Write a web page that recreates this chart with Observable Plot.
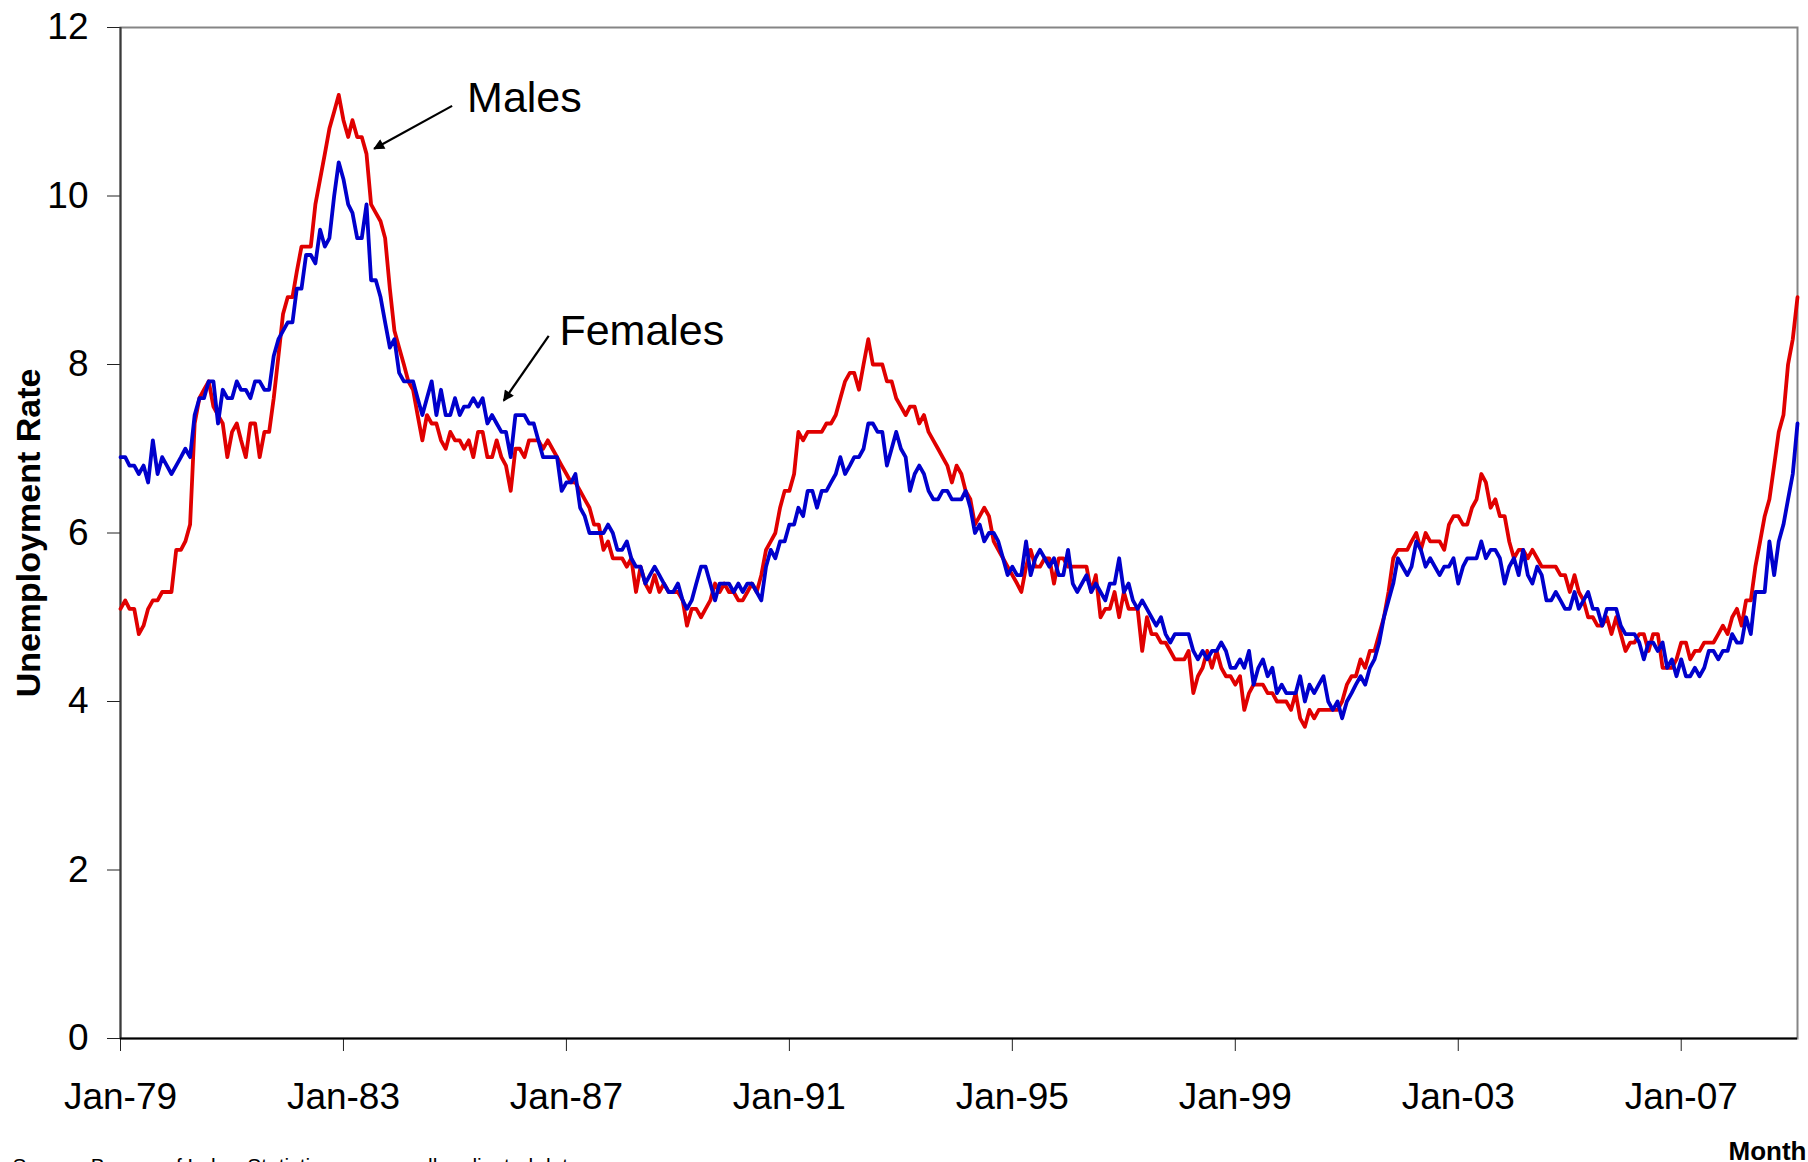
<!DOCTYPE html>
<html>
<head>
<meta charset="utf-8">
<script src="https://cdn.jsdelivr.net/npm/d3@7"></script>
<script src="https://cdn.jsdelivr.net/npm/@observablehq/plot@0.6"></script>
<style>
  html, body { margin: 0; padding: 0; background: white; }
  #wrap { width: 1808px; height: 1162px; overflow: hidden; position: relative; }
</style>
</head>
<body>
<div id="wrap"></div>
<script>
// Monthly unemployment rate, seasonally adjusted, Jan 1979 – Feb 2009
const startMonth = "1979-01-01";

const males = [
  5.1, 5.2, 5.1, 5.1, 4.8, 4.9, 5.1, 5.2, 5.2, 5.3, 5.3, 5.3,      // 1979
  5.8, 5.8, 5.9, 6.1, 7.3, 7.6, 7.7, 7.8, 7.5, 7.4, 7.3, 6.9,      // 1980
  7.2, 7.3, 7.1, 6.9, 7.3, 7.3, 6.9, 7.2, 7.2, 7.6, 8.1, 8.6,      // 1981
  8.8, 8.8, 9.1, 9.4, 9.4, 9.4, 9.9, 10.2, 10.5, 10.8, 11.0, 11.2, // 1982
  10.9, 10.7, 10.9, 10.7, 10.7, 10.5, 9.9, 9.8, 9.7, 9.5, 8.9, 8.4, // 1983
  8.2, 8.0, 7.8, 7.7, 7.4, 7.1, 7.4, 7.3, 7.3, 7.1, 7.0, 7.2,      // 1984
  7.1, 7.1, 7.0, 7.1, 6.9, 7.2, 7.2, 6.9, 6.9, 7.1, 6.9, 6.8,      // 1985
  6.5, 7.0, 7.0, 6.9, 7.1, 7.1, 7.1, 7.0, 7.1, 7.0, 6.9, 6.8,      // 1986
  6.7, 6.6, 6.6, 6.5, 6.4, 6.3, 6.1, 6.1, 5.8, 5.9, 5.7, 5.7,      // 1987
  5.7, 5.6, 5.7, 5.3, 5.6, 5.4, 5.3, 5.5, 5.3, 5.4, 5.3, 5.3,      // 1988
  5.3, 5.2, 4.9, 5.1, 5.1, 5.0, 5.1, 5.2, 5.4, 5.3, 5.4, 5.3,      // 1989
  5.3, 5.2, 5.2, 5.3, 5.4, 5.3, 5.5, 5.8, 5.9, 6.0, 6.3, 6.5,      // 1990
  6.5, 6.7, 7.2, 7.1, 7.2, 7.2, 7.2, 7.2, 7.3, 7.3, 7.4, 7.6,      // 1991
  7.8, 7.9, 7.9, 7.7, 8.0, 8.3, 8.0, 8.0, 8.0, 7.8, 7.8, 7.6,      // 1992
  7.5, 7.4, 7.5, 7.5, 7.3, 7.4, 7.2, 7.1, 7.0, 6.9, 6.8, 6.6,      // 1993
  6.8, 6.7, 6.5, 6.4, 6.1, 6.2, 6.3, 6.2, 5.9, 5.8, 5.7, 5.6,      // 1994
  5.5, 5.4, 5.3, 5.6, 5.8, 5.6, 5.6, 5.7, 5.7, 5.4, 5.7, 5.7,      // 1995
  5.6, 5.6, 5.6, 5.6, 5.6, 5.3, 5.5, 5.0, 5.1, 5.1, 5.3, 5.0,      // 1996
  5.3, 5.1, 5.1, 5.1, 4.6, 5.0, 4.8, 4.8, 4.7, 4.7, 4.6, 4.5,      // 1997
  4.5, 4.5, 4.6, 4.1, 4.3, 4.4, 4.6, 4.4, 4.6, 4.4, 4.3, 4.3,      // 1998
  4.2, 4.3, 3.9, 4.1, 4.2, 4.2, 4.2, 4.1, 4.1, 4.0, 4.0, 4.0,      // 1999
  3.9, 4.1, 3.8, 3.7, 3.9, 3.8, 3.9, 3.9, 3.9, 3.9, 3.9, 4.0,      // 2000
  4.2, 4.3, 4.3, 4.5, 4.4, 4.6, 4.6, 4.8, 5.0, 5.3, 5.7, 5.8,      // 2001
  5.8, 5.8, 5.9, 6.0, 5.8, 6.0, 5.9, 5.9, 5.9, 5.8, 6.1, 6.2,      // 2002
  6.2, 6.1, 6.1, 6.3, 6.4, 6.7, 6.6, 6.3, 6.4, 6.2, 6.2, 5.9,      // 2003
  5.7, 5.8, 5.8, 5.7, 5.8, 5.7, 5.6, 5.6, 5.6, 5.6, 5.5, 5.5,      // 2004
  5.3, 5.5, 5.3, 5.2, 5.0, 5.0, 4.9, 4.9, 5.0, 4.8, 5.0, 4.8,      // 2005
  4.6, 4.7, 4.7, 4.8, 4.8, 4.6, 4.8, 4.8, 4.4, 4.4, 4.4, 4.5,      // 2006
  4.7, 4.7, 4.5, 4.6, 4.6, 4.7, 4.7, 4.7, 4.8, 4.9, 4.8, 5.0,      // 2007
  5.1, 4.9, 5.2, 5.2, 5.6, 5.9, 6.2, 6.4, 6.8, 7.2, 7.4, 8.0,      // 2008
  8.3, 8.8                                                          // 2009
];

const females = [
  6.9, 6.9, 6.8, 6.8, 6.7, 6.8, 6.6, 7.1, 6.7, 6.9, 6.8, 6.7,      // 1979
  6.8, 6.9, 7.0, 6.9, 7.4, 7.6, 7.6, 7.8, 7.8, 7.3, 7.7, 7.6,      // 1980
  7.6, 7.8, 7.7, 7.7, 7.6, 7.8, 7.8, 7.7, 7.7, 8.1, 8.3, 8.4,      // 1981
  8.5, 8.5, 8.9, 8.9, 9.3, 9.3, 9.2, 9.6, 9.4, 9.5, 10.0, 10.4,    // 1982
  10.2, 9.9, 9.8, 9.5, 9.5, 9.9, 9.0, 9.0, 8.8, 8.5, 8.2, 8.3,     // 1983
  7.9, 7.8, 7.8, 7.8, 7.6, 7.4, 7.6, 7.8, 7.4, 7.7, 7.4, 7.4,      // 1984
  7.6, 7.4, 7.5, 7.5, 7.6, 7.5, 7.6, 7.3, 7.4, 7.3, 7.2, 7.2,      // 1985
  6.9, 7.4, 7.4, 7.4, 7.3, 7.3, 7.1, 6.9, 6.9, 6.9, 6.9, 6.5,      // 1986
  6.6, 6.6, 6.7, 6.3, 6.2, 6.0, 6.0, 6.0, 6.0, 6.1, 6.0, 5.8,      // 1987
  5.8, 5.9, 5.7, 5.6, 5.6, 5.4, 5.5, 5.6, 5.5, 5.4, 5.3, 5.3,      // 1988
  5.4, 5.2, 5.1, 5.2, 5.4, 5.6, 5.6, 5.4, 5.2, 5.4, 5.4, 5.4,      // 1989
  5.3, 5.4, 5.3, 5.4, 5.4, 5.3, 5.2, 5.6, 5.8, 5.7, 5.9, 5.9,      // 1990
  6.1, 6.1, 6.3, 6.2, 6.5, 6.5, 6.3, 6.5, 6.5, 6.6, 6.7, 6.9,      // 1991
  6.7, 6.8, 6.9, 6.9, 7.0, 7.3, 7.3, 7.2, 7.2, 6.8, 7.0, 7.2,      // 1992
  7.0, 6.9, 6.5, 6.7, 6.8, 6.7, 6.5, 6.4, 6.4, 6.5, 6.5, 6.4,      // 1993
  6.4, 6.4, 6.5, 6.3, 6.0, 6.1, 5.9, 6.0, 6.0, 5.9, 5.7, 5.5,      // 1994
  5.6, 5.5, 5.5, 5.9, 5.5, 5.7, 5.8, 5.7, 5.6, 5.7, 5.5, 5.5,      // 1995
  5.8, 5.4, 5.3, 5.4, 5.5, 5.3, 5.4, 5.3, 5.2, 5.4, 5.4, 5.7,      // 1996
  5.3, 5.4, 5.2, 5.1, 5.2, 5.1, 5.0, 4.9, 5.0, 4.8, 4.7, 4.8,      // 1997
  4.8, 4.8, 4.8, 4.6, 4.5, 4.6, 4.5, 4.6, 4.6, 4.7, 4.6, 4.4,      // 1998
  4.4, 4.5, 4.4, 4.6, 4.2, 4.4, 4.5, 4.3, 4.4, 4.1, 4.2, 4.1,      // 1999
  4.1, 4.1, 4.3, 4.0, 4.2, 4.1, 4.2, 4.3, 4.0, 3.9, 4.0, 3.8,      // 2000
  4.0, 4.1, 4.2, 4.3, 4.2, 4.4, 4.5, 4.7, 5.0, 5.2, 5.4, 5.7,      // 2001
  5.6, 5.5, 5.6, 5.9, 5.8, 5.6, 5.7, 5.6, 5.5, 5.6, 5.6, 5.7,      // 2002
  5.4, 5.6, 5.7, 5.7, 5.7, 5.9, 5.7, 5.8, 5.8, 5.7, 5.4, 5.6,      // 2003
  5.7, 5.5, 5.8, 5.5, 5.4, 5.6, 5.5, 5.2, 5.2, 5.3, 5.2, 5.1,      // 2004
  5.1, 5.3, 5.1, 5.2, 5.3, 5.1, 5.1, 4.9, 5.1, 5.1, 5.1, 4.9,      // 2005
  4.8, 4.8, 4.8, 4.7, 4.5, 4.7, 4.7, 4.6, 4.7, 4.4, 4.5, 4.3,      // 2006
  4.5, 4.3, 4.3, 4.4, 4.3, 4.4, 4.6, 4.6, 4.5, 4.6, 4.6, 4.8,      // 2007
  4.7, 4.7, 5.0, 4.8, 5.3, 5.3, 5.3, 5.9, 5.5, 5.9, 6.1, 6.4,      // 2008
  6.7, 7.3                                                          // 2009
];

const seriesNames = ["Males", "Females"];
const seriesColors = ["#e00000", "#0000cc"];

const tickYears = [1979, 1983, 1987, 1991, 1995, 1999, 2003, 2007];
const yTicks = [0, 2, 4, 6, 8, 10, 12];

const yTitle = "Unemployment Rate";
const xTitle = "Month";
const sourceNote = "Source: Bureau of Labor Statistics,  seasonally adjusted data";

// annotation labels and their arrows (anchored in data units)
const annoLabels = [
  {text: "Males",   date: "1985-03-21", value: 11.36},
  {text: "Females", date: "1986-11-16", value: 8.59}
];
const annoArrows = [
  {from: "1984-12-13", fromV: 11.07, to: "1983-07-21", toV: 10.56},
  {from: "1986-09-07", fromV: 8.34,  to: "1985-11-16", toV: 7.57}
];

// build table
const start = new Date(startMonth + "T00:00:00Z");
const months = males.map((_, i) => d3.utcMonth.offset(start, i));
const rows = [];
[males, females].forEach((arr, s) => arr.forEach((v, i) => rows.push({date: months[i], value: v, series: seriesNames[s]})));
const tickDates = tickYears.map(y => new Date(Date.UTC(y, 0, 1)));
const P = d => new Date(d + "T00:00:00Z");

const font = "'Liberation Sans', Arial, Helvetica, sans-serif";

const chart = Plot.plot({
  width: 1808,
  height: 1162,
  marginLeft: 120,
  marginRight: 11,
  marginTop: 27,
  marginBottom: 124,
  style: {fontFamily: font, background: "white", color: "black", overflow: "hidden"},
  x: {type: "utc", domain: [months[0], months[months.length - 1]]},
  y: {domain: [0, 12]},
  color: {domain: seriesNames, range: seriesColors},
  marks: [
    Plot.frame({stroke: "#858585", strokeWidth: 2}),
    Plot.axisY({ticks: yTicks, tickSize: 13, tickPadding: 19, fontSize: 37, label: null, stroke: "#222"}),
    Plot.axisX({ticks: tickDates, tickSize: 13, tickPadding: 31, fontSize: 37, label: null,
                tickFormat: d3.utcFormat("%b-%y"), stroke: "#222"}),
    Plot.ruleX([months[0]], {stroke: "#3a3a3a", strokeWidth: 2}),
    Plot.ruleY([0], {stroke: "black", strokeWidth: 2.2}),
    Plot.line(rows.filter(d => d.series === "Males"), {x: "date", y: "value", stroke: "series", strokeWidth: 3.8, strokeLinejoin: "round"}),
    Plot.line(rows.filter(d => d.series === "Females"), {x: "date", y: "value", stroke: "series", strokeWidth: 3.8, strokeLinejoin: "round"}),
    Plot.link(annoArrows, {x1: d => P(d.from), y1: "fromV", x2: d => P(d.to), y2: "toV", stroke: "black", strokeWidth: 2.2}),
    Plot.text(annoLabels, {x: d => P(d.date), y: "value", text: "text", textAnchor: "start", lineAnchor: "top", fontSize: 43, fill: "black"}),
    Plot.text([yTitle], {frameAnchor: "left", dx: -91, rotate: -90, textAnchor: "middle", lineAnchor: "middle", fontSize: 34, fontWeight: "bold", fill: "black"}),
    Plot.text([xTitle], {frameAnchor: "bottom-right", dx: 9, dy: 103, textAnchor: "end", lineAnchor: "top", fontSize: 26, fontWeight: "bold", fill: "black"}),
    Plot.text([sourceNote], {frameAnchor: "bottom-left", dx: -108, dy: 120, textAnchor: "start", lineAnchor: "top", fontSize: 21, fill: "black"})
  ]
});

// filled arrowheads for the annotation arrows
const ns = "http://www.w3.org/2000/svg";
const defs = document.createElementNS(ns, "defs");
const marker = document.createElementNS(ns, "marker");
marker.setAttribute("id", "ahead");
marker.setAttribute("viewBox", "0 0 10 10");
marker.setAttribute("refX", "9");
marker.setAttribute("refY", "5");
marker.setAttribute("markerUnits", "userSpaceOnUse");
marker.setAttribute("markerWidth", "15");
marker.setAttribute("markerHeight", "11");
marker.setAttribute("orient", "auto");
const mp = document.createElementNS(ns, "path");
mp.setAttribute("d", "M0,0L10,5L0,10Z");
mp.setAttribute("fill", "black");
marker.appendChild(mp);
defs.appendChild(marker);
chart.insertBefore(defs, chart.firstChild);
chart.querySelectorAll('g[aria-label="link"] path').forEach(p => p.setAttribute("marker-end", "url(#ahead)"));

document.getElementById("wrap").appendChild(chart);
</script>
</body>
</html>
